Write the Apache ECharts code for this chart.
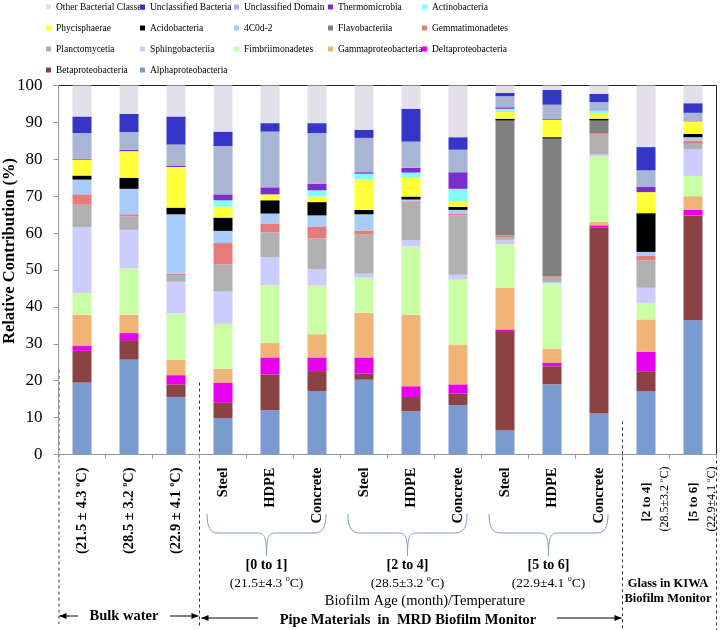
<!DOCTYPE html>
<html><head><meta charset="utf-8">
<script src="https://cdn.jsdelivr.net/npm/echarts@6/dist/echarts.min.js"></script>
<style>html,body{margin:0;padding:0;background:#fff}#c{width:720px;height:630px}</style>
</head><body><div id="c"></div>
<script>
// ---------- data ----------
const categories = ['Bulk [0 to 1]','Bulk [2 to 4]','Bulk [5 to 6]','Steel [0 to 1]','HDPE [0 to 1]','Concrete [0 to 1]','Steel [2 to 4]','HDPE [2 to 4]','Concrete [2 to 4]','Steel [5 to 6]','HDPE [5 to 6]','Concrete [5 to 6]','Glass [2 to 4]','Glass [5 to 6]'];
const tickLabels = ['(21.5 ± 4.3 °C)','(28.5 ± 3.2 °C)','(22.9 ± 4.1 °C)','Steel','HDPE','Concrete','Steel','HDPE','Concrete','Steel','HDPE','Concrete','[2 to 4]','[5 to 6]'];
const tickSubLabels = ['','','','','','','','','','','','','(28.5±3.2 °C)','(22.9±4.1 °C)'];

const alphaproteobacteria = [19.5,25.7,15.6,9.9,12.0,17.2,20.3,11.7,13.4,6.6,19.0,11.1,17.2,36.4];
const betaproteobacteria  = [8.6,5.3,3.4,4.1,9.7,5.4,1.6,3.9,3.1,26.6,4.9,50.5,5.2,28.4];
const deltaproteobacteria = [1.3,1.9,2.5,5.5,4.6,3.7,4.4,2.9,2.5,0.7,0.9,0.5,5.4,1.5];
const gammaproteobacteria = [8.5,5.0,4.2,3.7,3.9,6.3,12.1,19.4,10.8,11.3,3.9,0.9,8.8,3.7];
const fimbriimonadetes    = [5.9,12.5,12.5,12.2,15.7,13.2,9.5,18.5,17.6,11.8,17.6,17.8,4.5,5.5];
const sphingobacteriia    = [17.8,10.5,8.6,8.8,7.6,4.4,1.1,1.7,1.3,1.2,0.4,0.5,4.1,7.2];
const planctomycetia      = [6.1,3.6,1.8,7.3,6.7,8.4,10.6,10.1,16.1,0.7,1.2,5.4,7.4,1.5];
const gemmatimonadetes    = [2.8,0.6,0.4,5.8,2.4,3.2,1.1,0.4,0.5,0.5,0.4,0.4,1.2,0.9];
const flavobacteriia      = [0,0,0,0,0,0,0,0,0,31.1,37.3,3.4,0,0];
const c4C0d2              = [4.0,6.9,16.1,3.3,2.7,3.0,4.4,0.5,1.0,0,0,0,1.1,0.9];
const acidobacteria       = [1.1,3.0,1.8,3.6,3.6,3.6,1.2,0.8,0.8,0.5,0.4,0.5,10.5,0.9];
const phycisphaerae       = [4.3,7.2,11.0,3.0,1.6,1.5,8.2,5.1,1.6,1.8,4.7,1.5,5.7,3.4];
const actinobacteria      = [0,0,0,1.7,0,1.7,1.6,1.4,3.3,0.9,0,0.8,0,0];
const thermomicrobia      = [0.2,0.4,0.4,1.6,1.9,1.8,0.4,1.3,4.5,0.4,0.2,0.2,1.4,0.2];
const unclassifiedDomain  = [7.0,4.8,5.7,13.1,15.1,13.7,9.3,7.1,6.1,3.0,3.9,2.0,4.5,2.1];
const unclassifiedBacteria= [4.5,4.9,7.6,3.9,2.3,2.7,2.2,8.9,3.4,0.9,4.0,2.2,6.3,2.6];
const otherClasses        = [8.4,7.7,8.4,12.5,10.2,10.2,12.0,6.3,14.0,2.0,1.2,2.3,16.7,4.8];

const seriesNames = ['Alphaproteobacteria','Betaproteobacteria','Deltaproteobacteria','Gammaproteobacteria','Fimbriimonadetes','Sphingobacteriia','Planctomycetia','Gemmatimonadetes','Flavobacteriia','4C0d-2','Acidobacteria','Phycisphaerae','Actinobacteria','Thermomicrobia','Unclassified Domain','Unclassified Bacteria','Other Bacterial Classes'];
const seriesValues = [alphaproteobacteria,betaproteobacteria,deltaproteobacteria,gammaproteobacteria,fimbriimonadetes,sphingobacteriia,planctomycetia,gemmatimonadetes,flavobacteriia,c4C0d2,acidobacteria,phycisphaerae,actinobacteria,thermomicrobia,unclassifiedDomain,unclassifiedBacteria,otherClasses];
const seriesColors = ['#7a9bd0','#8b4242','#e600ee','#efb476','#c9fda6','#ccccff','#b0b0b0','#e47c7c','#808080','#a8cbf7','#000000','#ffff3a','#80ffff','#7a2ed0','#a9b5d5','#3535c8','#e3e0ec'];

const legendColumns = [
  ['Other Bacterial Classes','Phycisphaerae','Planctomycetia','Betaproteobacteria'],
  ['Unclassified Bacteria','Acidobacteria','Sphingobacteriia','Alphaproteobacteria'],
  ['Unclassified Domain','4C0d-2','Fimbriimonadetes'],
  ['Thermomicrobia','Flavobacteriia','Gammaproteobacteria'],
  ['Actinobacteria','Gemmatimonadetes','Deltaproteobacteria']
];
const legendLefts = [46, 140, 234, 328, 422];

const groupLabels = ['[0 to 1]','[2 to 4]','[5 to 6]'];
const groupTemps = ['(21.5±4.3 °C)','(28.5±3.2 °C)','(22.9±4.1 °C)'];

// ---------- chart ----------
const FONT = '"Liberation Serif","Times New Roman",serif';
const chart = echarts.init(document.getElementById('c'), null, {renderer:'canvas'});

function sup(str, main, s) {
  const parts = str.split('°C');
  if (parts.length === 1) return '{' + main + '|' + str + '}';
  return '{' + main + '|' + parts[0] + '}{' + s + '|o}{' + main + '|C' + parts[1] + '}';
}

const option = {
  animation: false,
  backgroundColor: '#fff',
  textStyle: {fontFamily: FONT},
  legend: legendColumns.map((col, k) => ({
    data: col, left: legendLefts[k], top: 0, orient: 'vertical', padding: 0,
    itemWidth: 5, itemHeight: 5, itemGap: 7, icon: 'rect', selectedMode: false,
    textStyle: {fontFamily: FONT, fontSize: 9.5, color: '#000', lineHeight: 14}
  })),
  grid: {left: 58.5, right: 3.5, top: 85.5, bottom: 175.5, show: true, borderColor: '#222', borderWidth: 1, outerBoundsMode: 'none'},
  xAxis: {
    type: 'category', data: categories,
    axisLine: {lineStyle: {color: '#999'}},
    axisTick: {show: true, length: 4, lineStyle: {color: '#999'}},
    axisLabel: {
      interval: 0, rotate: 90, margin: 13,
      formatter: (v, i) => tickSubLabels[i] ? '' : sup(tickLabels[i], 'b', 'bs'),
      rich: {
        b: {fontFamily: FONT, fontWeight: 'bold', fontSize: 14.5, color: '#000', lineHeight: 16},
        bs: {fontFamily: FONT, fontWeight: 'bold', fontSize: 8, color: '#000', lineHeight: 9, verticalAlign: 'top'}
      }
    }
  },
  yAxis: {
    type: 'value', min: 0, max: 100, interval: 10,
    axisLine: {show: true, lineStyle: {color: '#999'}},
    axisTick: {show: true, length: 5, lineStyle: {color: '#999'}},
    splitLine: {show: false},
    axisLabel: {fontFamily: FONT, fontSize: 17, color: '#000', margin: 16}
  },
  series: seriesNames.map((n, k) => ({
    name: n, type: 'bar', stack: 'total', barWidth: 19,
    data: seriesValues[k], itemStyle: {color: seriesColors[k]},
    emphasis: {disabled: true}
  }))
};
chart.setOption(option);

// ---------- annotations (positioned from the axes) ----------
const px = i => chart.convertToPixel({xAxisIndex: 0}, categories[i]);
const py = v => chart.convertToPixel({yAxisIndex: 0}, v);
const band = px(1) - px(0);
const leftEdge = px(0) - band / 2;
const rightEdge = px(categories.length - 1) + band / 2;
const bound = i => (px(i) + px(i + 1)) / 2;

const g = [];
const dash = (x, y1, y2) => g.push({type: 'line', shape: {x1: x, y1: y1, x2: x, y2: y2}, style: {stroke: '#333', lineWidth: 1, lineDash: [3, 3]}, silent: true});
dash(leftEdge + 0.5, py(23), 624);
dash(bound(2), py(19.5), 628);
dash(bound(11), py(9), 630);
dash(rightEdge, py(0), 630);

// braces
const braceColor = '#7f9bc8';
const bz = (x1, y1, cx1, cy1, cx2, cy2, x2, y2) => g.push({type: 'bezierCurve', shape: {x1: x1, y1: y1, cpx1: cx1, cpy1: cy1, cpx2: cx2, cpy2: cy2, x2: x2, y2: y2}, style: {stroke: braceColor, lineWidth: 1, fill: null}, silent: true});
const ln = (x1, y1, x2, y2, c) => g.push({type: 'line', shape: {x1: x1, y1: y1, x2: x2, y2: y2}, style: {stroke: c, lineWidth: 1}, silent: true});
[[3,5],[6,8],[9,11]].forEach((gr, k) => {
  const x0 = px(gr[0]) - 16, x1 = px(gr[1]) + 9, xm = (x0 + x1) / 2;
  const yt = 514, yh = 533, yp = 556;
  bz(x0, yt, x0, yh - 6, x0 + 3, yh, x0 + 12, yh);
  ln(x0 + 12, yh, xm - 9, yh, braceColor);
  bz(xm - 9, yh, xm - 2, yh, xm, yh + 4, xm, yp);
  bz(xm, yp, xm, yh + 4, xm + 2, yh, xm + 9, yh);
  ln(xm + 9, yh, x1 - 12, yh, braceColor);
  bz(x1 - 12, yh, x1 - 3, yh, x1, yh - 6, x1, yt);
  g.push({type: 'text', x: xm, y: 565, style: {text: groupLabels[k], font: 'bold 14px ' + FONT, fill: '#000', align: 'center', verticalAlign: 'middle'}});
  const parts = groupTemps[k].split('°C');
  g.push({type: 'text', x: xm, y: 583, style: {
    text: '{n|' + parts[0] + '}{o|o}{n|C' + parts[1] + '}', align: 'center', verticalAlign: 'middle',
    rich: {n: {fontFamily: FONT, fontSize: 13.5, fill: '#000', lineHeight: 16}, o: {fontFamily: FONT, fontSize: 8, fill: '#000', lineHeight: 10, verticalAlign: 'top'}}
  }});
});

// two-line tick labels of the KIWA glass bars
[12, 13].forEach(i => {
  const x = px(i);
  g.push({type: 'text', x: x + 1, y: 502, rotation: Math.PI / 2, style: {text: tickLabels[i], fontFamily: FONT, fontWeight: 'bold', fontSize: 13, fill: '#000', align: 'center', verticalAlign: 'middle'}});
  const parts = tickSubLabels[i].split('°C');
  g.push({type: 'text', x: x + 19, y: 499, rotation: Math.PI / 2, style: {
    text: '{n|' + parts[0] + '}{o|o}{n|C' + parts[1] + '}', align: 'center', verticalAlign: 'middle',
    rich: {n: {fontFamily: FONT, fontSize: 12, fill: '#000', lineHeight: 14}, o: {fontFamily: FONT, fontSize: 7, fill: '#000', lineHeight: 9, verticalAlign: 'top'}}
  }});
});

const txt = (s, x, y, font) => g.push({type: 'text', x: x, y: y, style: {text: s, font: font, fill: '#000', align: 'center', verticalAlign: 'middle'}});
txt('Biofilm Age (month)/Temperature', 425, 601, '14.5px ' + FONT);
txt('Pipe Materials  in  MRD Biofilm Monitor', 408, 620, 'bold 14.5px ' + FONT);
txt('Bulk water', 124, 616, 'bold 14.5px ' + FONT);
g.push({type: 'text', x: 668, y: 591, style: {text: 'Glass in KIWA\nBiofilm Monitor', font: 'bold 12.5px ' + FONT, fill: '#000', align: 'center', verticalAlign: 'middle', lineHeight: 15}});

// arrows
const arrow = (xFrom, xTo, y) => {
  ln(xFrom, y, xTo, y, '#000');
  const dir = xTo > xFrom ? 1 : -1;
  g.push({type: 'polygon', shape: {points: [[xTo, y], [xTo - dir * 7, y - 3], [xTo - dir * 7, y + 3]]}, style: {fill: '#000'}, silent: true});
};
arrow(78, leftEdge + 1, 616);
arrow(170, bound(2) - 1, 616);
arrow(258, bound(2) + 2, 618);
arrow(557, bound(11) - 1, 618);

// y-axis title
g.push({type: 'text', x: 10, y: 251, rotation: Math.PI / 2, style: {text: 'Relative Contribution (%)', font: 'bold 16.5px ' + FONT, fill: '#000', align: 'center', verticalAlign: 'middle'}});

chart.setOption({graphic: g});
</script>
</body></html>
